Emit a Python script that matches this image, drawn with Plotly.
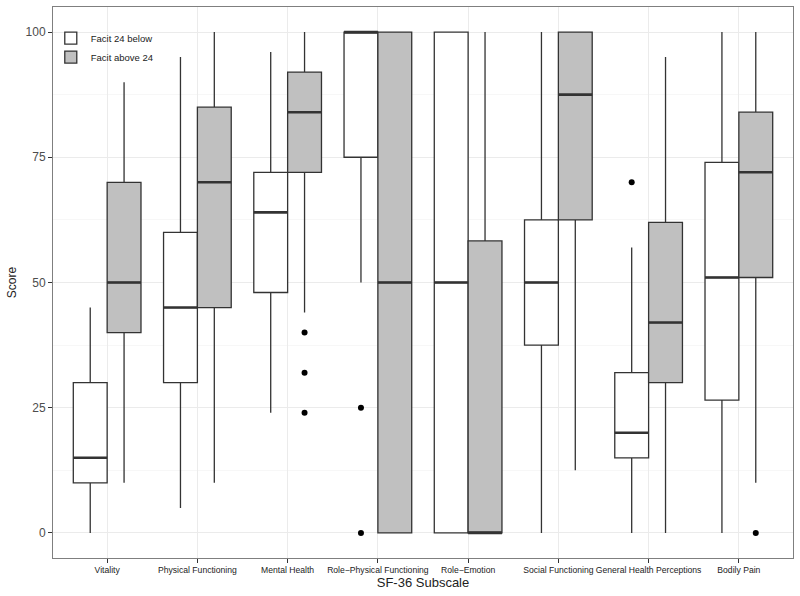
import numpy as np
import plotly.graph_objects as go

categories = ["Vitality", "Physical Functioning", "Mental Health", "Role\u2212Physical Functioning",
              "Role\u2212Emotion", "Social Functioning", "General Health Perceptions", "Bodily Pain"]

# Facit 24 below
below_low = [0, 5, 24, 50, 0, 0, 0, 0]
below_q1 = [10, 30, 48, 75, 0, 37.5, 15, 26.5]
below_med = [15, 45, 64, 100, 50, 50, 20, 51]
below_q3 = [30, 60, 72, 100, 100, 62.5, 32, 74]
below_high = [45, 95, 96, 100, 100, 100, 57, 100]
below_out_cat = ["Role\u2212Physical Functioning", "Role\u2212Physical Functioning", "General Health Perceptions"]
below_out_val = [25, 0, 70]

# Facit above 24
above_low = [10, 10, 44, 0, 0, 12.5, 0, 10]
above_q1 = [40, 45, 72, 0, 0, 62.5, 30, 51]
above_med = [50, 70, 84, 50, 0, 87.5, 42, 72]
above_q3 = [70, 85, 92, 100, 58.3, 100, 62, 84]
above_high = [90, 100, 100, 100, 100, 100, 95, 100]
above_out_cat = ["Mental Health", "Mental Health", "Mental Health", "Bodily Pain"]
above_out_val = [40, 32, 24, 0]

idx = {c: i + 1 for i, c in enumerate(categories)}
pos = np.arange(1, len(categories) + 1, dtype=float)
half = 0.1875
line_col = "#333333"

fig = go.Figure()

def add_group(name, offset, low, q1, med, q3, high, fill, out_cat, out_val):
    xs = pos + offset
    fig.add_trace(go.Box(x=xs, lowerfence=low, q1=q1, median=med, q3=q3, upperfence=high,
                         width=2 * half, fillcolor=fill, name=name,
                         line=dict(color=line_col, width=1.3), boxpoints=False,
                         whiskerwidth=0))
    mx, my = [], []
    for x, m in zip(xs, med):
        mx += [x - half, x + half, None]
        my += [m, m, None]
    fig.add_trace(go.Scatter(x=mx, y=my, mode="lines", line=dict(color=line_col, width=2.6),
                             showlegend=False, hoverinfo="skip"))
    if out_cat:
        fig.add_trace(go.Scatter(x=[idx[c] + offset for c in out_cat], y=out_val, mode="markers",
                                 marker=dict(color="black", size=6), showlegend=False))

add_group("Facit 24 below", -half, below_low, below_q1, below_med, below_q3, below_high,
          "white", below_out_cat, below_out_val)
add_group("Facit above 24", half, above_low, above_q1, above_med, above_q3, above_high,
          "#C0C0C0", above_out_cat, above_out_val)

fig.update_layout(
    width=800, height=596,
    margin=dict(l=53, r=7, t=7, b=38, autoexpand=False),
    paper_bgcolor="white", plot_bgcolor="white",
    font=dict(family="Liberation Sans, Arial, sans-serif", color="#333333"),
    boxmode="overlay",
    showlegend=True,
    legend=dict(x=-0.003, y=0.97, xanchor="left", yanchor="top", bgcolor="rgba(255,255,255,0)",
                font=dict(size=9.5, color="#222222"), tracegroupgap=4, itemwidth=30),
)
fig.update_xaxes(
    range=[0.4, 8.6], tickvals=list(pos), ticktext=categories, tickangle=0,
    tickfont=dict(size=8.6, color="#222222"), ticks="outside", ticklen=4, tickcolor="#333333",
    showgrid=True, gridcolor="#EBEBEB", gridwidth=1, zeroline=False,
    showline=True, mirror=True, linecolor="#7F7F7F", linewidth=1, automargin=False,
    title=dict(text="SF-36 Subscale", font=dict(size=13, color="#222222"), standoff=2),
)
fig.update_yaxes(
    range=[-5, 105], tickvals=[0, 25, 50, 75, 100],
    tickfont=dict(size=12, color="#4D4D4D"), ticks="outside", ticklen=4, tickcolor="#333333",
    showgrid=True, gridcolor="#EBEBEB", gridwidth=1, zeroline=False,
    minor=dict(tickvals=[12.5, 37.5, 62.5, 87.5], showgrid=True, gridcolor="#F7F7F7", ticks=""),
    showline=True, mirror=True, linecolor="#7F7F7F", linewidth=1, automargin=False,
    title=dict(text="Score", font=dict(size=12, color="#222222"), standoff=6),
)

fig.write_html("out.html", config={"displayModeBar": False},
               post_script="document.body.style.margin='0px';document.body.style.padding='0px';")
